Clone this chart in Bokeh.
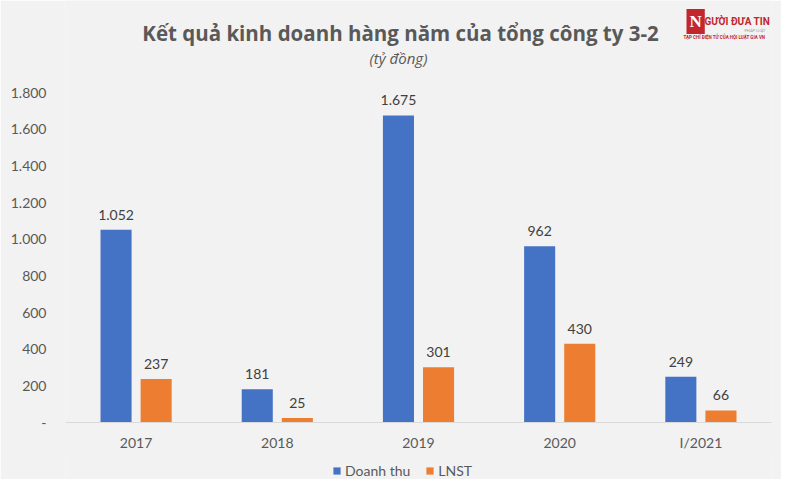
from bokeh.plotting import figure
from bokeh.layouts import column
from bokeh.models import (ColumnDataSource, Range1d, FactorRange, FixedTicker, Label,
                          Legend, LegendItem)
from bokeh.transform import dodge
from bokeh.core.properties import value
from bokeh.embed import file_html
from bokeh.resources import INLINE

categories = ["2017", "2018", "2019", "2020", "I/2021"]
doanh_thu = [1052, 181, 1675, 962, 249]
lnst = [237, 25, 301, 430, 66]
y_ticks = [0, 200, 400, 600, 800, 1000, 1200, 1400, 1600, 1800]

title_text = "Kết quả kinh doanh hàng năm của tổng công ty 3-2"
subtitle_text = "(tỷ đồng)"
series_names = ["Doanh thu", "LNST"]


def fmt(v):
    if v == 0:
        return "-"
    return f"{v:,}".replace(",", ".")


FONT = "Lato"
TFONT = "Open Sans"
BG = "#f2f2f2"
BLUE = "#4472C4"
ORANGE = "#ED7D31"
GREY = "#595959"
RED = "#c1272d"

WIDTH = 781
H_MAIN, H_LEG = 455, 25
B_LEFT, B_RIGHT, B_BOTTOM = 65, 10, 33
PLOT_H_PX = 330            # pixel height of the 0..1800 span
YMAX = 1800
frame_h = H_MAIN - B_BOTTOM
y_top = YMAX * frame_h / PLOT_H_PX   # frame extends up to the top of the canvas (header room)

src = ColumnDataSource(dict(
    cat=categories,
    dt=doanh_thu,
    ln=lnst,
    dt_lbl=[fmt(v) for v in doanh_thu],
    ln_lbl=[fmt(v) for v in lnst],
))

p = figure(width=WIDTH, height=H_MAIN, output_backend="svg", toolbar_location=None,
           x_range=FactorRange(*categories, range_padding=0),
           y_range=Range1d(0, y_top),
           min_border_left=B_LEFT, min_border_right=B_RIGHT, min_border_top=0,
           min_border_bottom=B_BOTTOM)
p.background_fill_color = BG
p.border_fill_color = BG
p.outline_line_color = None
p.grid.grid_line_color = None

W = 0.22
OFF = 0.142
p.vbar(x=dodge("cat", -OFF, range=p.x_range), top="dt", width=W, source=src,
       fill_color=BLUE, line_color=None)
p.vbar(x=dodge("cat", OFF, range=p.x_range), top="ln", width=W, source=src,
       fill_color=ORANGE, line_color=None)

p.text(x=dodge("cat", -OFF, range=p.x_range), y="dt", text="dt_lbl", source=src,
       text_align="center", text_baseline="alphabetic", y_offset=-15,
       text_font=value(FONT), text_font_size="14px", text_color="#404040")
p.text(x=dodge("cat", OFF, range=p.x_range), y="ln", text="ln_lbl", source=src,
       text_align="center", text_baseline="alphabetic", y_offset=-15,
       text_font=value(FONT), text_font_size="14px", text_color="#404040")

p.yaxis.ticker = FixedTicker(ticks=y_ticks)
p.yaxis.major_label_overrides = {t: fmt(t) for t in y_ticks}
p.yaxis.axis_line_color = None
p.yaxis.major_tick_line_color = None
p.yaxis.minor_tick_line_color = None
p.yaxis.major_label_text_font = FONT
p.yaxis.major_label_text_font_size = "14px"
p.yaxis.major_label_text_color = GREY
p.yaxis.major_label_standoff = 13

p.xaxis.axis_line_color = "#d9d9d9"
p.xaxis.axis_line_width = 1
p.xaxis.major_tick_line_color = None
p.xaxis.minor_tick_line_color = None
p.xaxis.major_label_text_font = FONT
p.xaxis.major_label_text_font_size = "14px"
p.xaxis.major_label_text_color = GREY
p.xaxis.major_label_standoff = 5


def hlab(px, py, text, **kw):
    # header decorations, positioned in canvas pixels (converted to frame-relative screen units)
    p.add_layout(Label(x=px - B_LEFT, y=frame_h - py, x_units="screen", y_units="screen",
                       text=text, **kw))


hlab(400, 32, title_text, text_align="center", text_baseline="alphabetic", text_font=TFONT,
     text_font_style="bold", text_font_size="20.5px", text_color=GREY)
hlab(398, 57, subtitle_text, text_align="center", text_baseline="alphabetic", text_font=TFONT,
     text_font_style="italic", text_font_size="15px", text_color=GREY)

# logo (shifted left so that it stays within the canvas)
hlab(686, 21, "N", text_align="left", text_baseline="middle", text_font="Liberation Serif",
     text_font_style="bold", text_font_size="17px", text_color="white",
     background_fill_color=RED, padding=3)
hlab(704, 21, "GƯỜI ĐƯA TIN", text_align="left", text_baseline="middle",
     text_font="Roboto", text_font_style="bold", text_font_size="10px", text_color=RED)
hlab(744, 30, "PHÁP LUẬT", text_align="left", text_baseline="middle",
     text_font="Roboto", text_font_size="4px", text_color="#999999")
hlab(683, 37, "TẠP CHÍ ĐIỆN TỬ CỦA HỘI LUẬT GIA VN", text_align="left",
     text_baseline="middle", text_font="Roboto", text_font_style="bold",
     text_font_size="4.5px", text_color=RED)

# ---- legend strip
leg = figure(width=WIDTH, height=H_LEG, output_backend="svg", toolbar_location=None,
             x_range=Range1d(0, 1), y_range=Range1d(0, 1),
             x_axis_location=None, y_axis_location=None,
             min_border_left=B_LEFT, min_border_right=B_RIGHT,
             min_border_top=0, min_border_bottom=0)
leg.background_fill_color = BG
leg.border_fill_color = BG
leg.outline_line_color = None
leg.grid.grid_line_color = None
leg.margin = (-1, 0, 0, 0)
proxy = ColumnDataSource(dict(x=[0.0], top=[0.0]))
g1 = leg.vbar(x="x", top="top", width=0, source=proxy, fill_color=BLUE, line_color=None)
g2 = leg.vbar(x="x", top="top", width=0, source=proxy, fill_color=ORANGE, line_color=None)
legend = Legend(items=[LegendItem(label=series_names[0], renderers=[g1]),
                       LegendItem(label=series_names[1], renderers=[g2])],
                location=(332 - B_LEFT, 0), orientation="horizontal",
                glyph_width=9, glyph_height=9, label_height=14, label_standoff=4,
                spacing=15, padding=0, margin=0,
                label_text_font=FONT, label_text_font_size="14px", label_text_color=GREY,
                background_fill_alpha=0, border_line_color=None)
leg.add_layout(legend, "center")

layout = column(p, leg, spacing=0)
open("out.html", "w").write(file_html(layout, INLINE))
